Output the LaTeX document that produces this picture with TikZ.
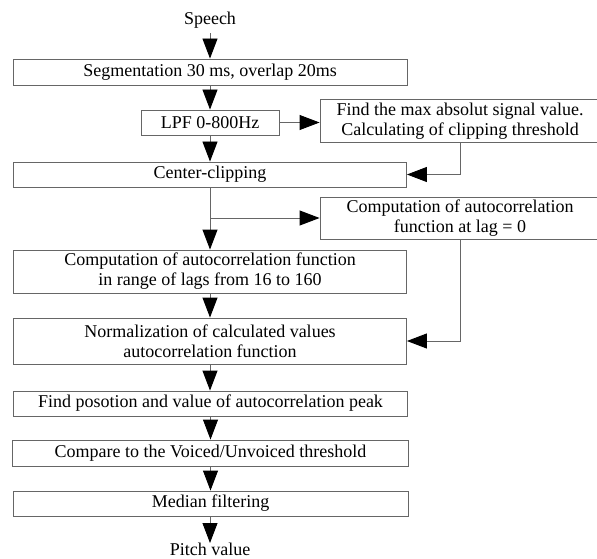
\documentclass[tikz,border=0pt]{standalone}
\usepackage{fontspec}
\setmainfont{Liberation Serif}
\usetikzlibrary{arrows.meta}
\begin{document}
\begin{tikzpicture}[x=1pt,y=-1pt,
  box/.style={draw=black!60, line width=0.9pt, inner sep=0pt, align=center, font=\fontsize{18}{20}\selectfont},
  lbl/.style={inner sep=0pt, font=\fontsize{18}{20}\selectfont},
  conn/.style={draw=black!60, line width=0.9pt, -{Triangle[length=20pt,width=15pt,black]}},
  link/.style={draw=black!60, line width=0.9pt}]
\useasboundingbox (0,0) rectangle (597,559);

\node[lbl, anchor=base] (speech) at (210,25) {Speech};
\node[box, minimum width=394pt, minimum height=26pt] (seg) at (210,72) {Segmentation 30 ms, overlap 20ms};
\node[box, minimum width=138pt, minimum height=25pt] (lpf) at (210,122.5) {LPF 0-800Hz};
\node[box, minimum width=280pt, minimum height=43pt] (find) at (460,121) {Find the max absolut signal value.\\Calculating of clipping threshold};
\node[box, minimum width=393pt, minimum height=25pt] (cc) at (210,174.5) {Center-clipping};
\node[box, minimum width=280pt, minimum height=42pt] (lag) at (460,218) {Computation of autocorrelation\\function at lag = 0};
\node[box, minimum width=393pt, minimum height=43pt] (comp) at (210,271.5) {Computation of autocorrelation function\\in range of lags from 16 to 160};
\node[box, minimum width=393pt, minimum height=46pt] (norm) at (210,341) {Normalization of calculated values\\autocorrelation function};
\node[box, minimum width=394pt, minimum height=25pt] (peak) at (210.5,403.5) {Find posotion and value of autocorrelation peak};
\node[box, minimum width=396pt, minimum height=26pt] (cmp) at (210.5,453) {Compare to the Voiced/Unvoiced threshold};
\node[box, minimum width=395pt, minimum height=25pt] (med) at (210.5,503.5) {Median filtering};
\node[lbl, anchor=north] (pitch) at (210,543) {Pitch value};

\draw[conn, shorten <=4pt] (speech.south) -- (seg.north);
\draw[conn] (seg.south) -- (lpf.north);
\draw[conn] (lpf.south) -- (cc.north);
\draw[conn] (lpf.east) -- (lpf.east -| find.west);
\draw[conn] (find.south) |- (cc.east);
\draw[conn] (cc.south) -- (comp.north);
\draw[conn] (cc.south |- lag.west) -- (lag.west);
\draw[conn] (lag.south) |- (norm.east);
\draw[conn] (comp.south) -- (norm.north);
\draw[conn] (norm.south) -- (norm.south |- peak.north);
\draw[conn] (peak.south) -- (peak.south |- cmp.north);
\draw[conn] (cmp.south) -- (cmp.south |- med.north);
\draw[conn] (med.south -| pitch.north) -- (pitch.north);
\end{tikzpicture}
\end{document}
